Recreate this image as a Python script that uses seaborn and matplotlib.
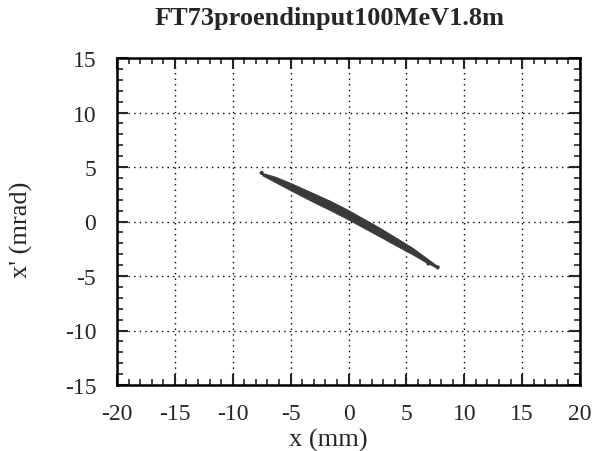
import numpy as np
import pandas as pd
import matplotlib
matplotlib.use("Agg")
import matplotlib.pyplot as plt
from matplotlib.ticker import MultipleLocator
import seaborn as sns

# Beam phase-space band, edges (x in mm, x' in mrad)
edge_x = [-7.4, -6.3, -4.8, -3.1, -1.6, -0.2, 1.2, 2.7, 4.1, 5.6, 6.7, 7.6]
upper_xp = [4.40, 4.06, 3.40, 2.59, 1.87, 1.12, 0.29, -0.61, -1.51, -2.49, -3.35, -4.05]
lower_xp = [4.20, 3.58, 2.74, 1.81, 1.03, 0.28, -0.53, -1.39, -2.21, -3.07, -3.75, -4.25]

# stray particles at the band tips
stray_x = [-7.5, 6.9, 7.7]
stray_xp = [4.45, -3.85, -4.2]

x_ticks = [-20, -15, -10, -5, 0, 5, 10, 15, 20]
y_ticks = [-15, -10, -5, 0, 5, 10, 15]

TITLE = "FT73proendinput100MeV1.8m"
BAND_COLOR = "#3a3a3a"

sns.set_theme(style="ticks")
plt.rcParams.update({
    "font.family": ["Liberation Serif", "DejaVu Serif"],
    "axes.linewidth": 1.8,
    "xtick.major.width": 1.5,
    "ytick.major.width": 1.5,
    "xtick.minor.width": 1.2,
    "ytick.minor.width": 1.2,
})

fig = plt.figure(figsize=(5.93, 4.52), dpi=100)
ax = fig.add_axes([117 / 593, 1 - 386 / 452, 463 / 593, 327 / 452])

band = pd.DataFrame({
    "x": edge_x + edge_x[::-1],
    "xp": upper_xp + lower_xp[::-1],
})
ax.fill(band["x"], band["xp"], color=BAND_COLOR, lw=0.8, ec=BAND_COLOR, zorder=3)

stray = pd.DataFrame({"x": stray_x, "xp": stray_xp})
sns.scatterplot(data=stray, x="x", y="xp", ax=ax, color=BAND_COLOR, s=9,
                edgecolor="none", zorder=4, legend=False)

ax.set_xlim(-20, 20)
ax.set_ylim(-15, 15)
ax.set_xticks(x_ticks)
ax.set_yticks(y_ticks)
ax.set_xticklabels([str(v) for v in x_ticks])
ax.set_yticklabels([str(v) for v in y_ticks])
ax.xaxis.set_minor_locator(MultipleLocator(1))
ax.yaxis.set_minor_locator(MultipleLocator(1))
ax.tick_params(which="both", direction="in", top=True, right=True)
ax.tick_params(which="major", length=8)
ax.tick_params(which="minor", length=4)
ax.tick_params(axis="x", which="major", labelsize=17, pad=13)
ax.tick_params(axis="y", which="major", labelsize=17, pad=15)

ax.grid(True, which="major", color="black", linestyle=(0, (1, 3)), linewidth=1.0)
for side in ax.spines.values():
    side.set_color("black")

ax.set_xlabel("x (mm)", fontsize=19)
ax.set_ylabel("x' (mrad)", fontsize=19)
ax.xaxis.set_label_coords(0.456, -0.13)
ax.yaxis.set_label_coords(-0.181, 0.477)

fig.text(330 / 593, 1 - 19 / 452, TITLE, ha="center", va="center",
         fontsize=19, fontweight="bold")

fig.savefig("out.png", dpi=100)
